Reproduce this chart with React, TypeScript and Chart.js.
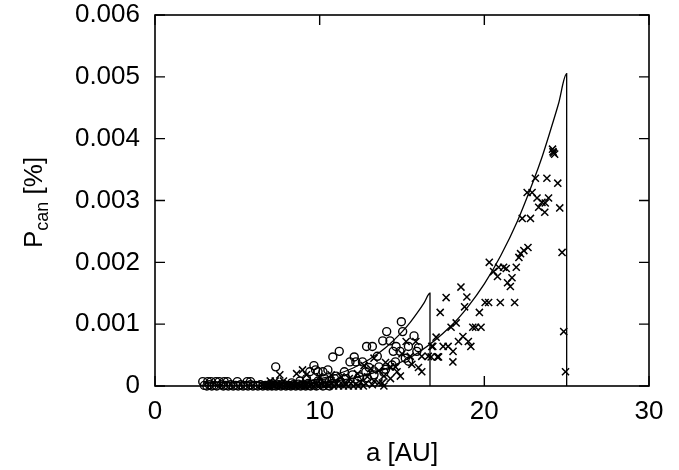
import { useEffect, useRef } from "react";
import { Chart, registerables } from "chart.js";
Chart.register(...registerables);

const xTicks = [0, 10, 20, 30];
const yTicks = [0, 0.001, 0.002, 0.003, 0.004, 0.005, 0.006];

// circles (inner region)
const circleA = [
  2.9, 3.2, 3.4, 3.7, 3.9, 4.2, 4.4, 5.0, 5.6, 5.8,
  3.0, 3.3, 3.6, 4.0, 4.3, 4.6, 4.9, 5.2, 5.5, 5.8, 6.1, 6.4, 6.7, 7.0, 7.2, 7.5, 7.8, 8.1, 8.4, 8.7, 9.0, 9.3, 9.6, 10.0, 10.4, 10.8, 11.2,
  3.15, 3.45, 3.75, 4.15, 4.45, 4.75, 5.05, 5.35, 5.65, 5.95, 6.25, 6.55, 6.85, 7.1, 7.35, 7.65, 7.95, 8.25, 8.55, 8.85, 9.15, 9.45, 9.8, 10.2, 10.6,
  7.33, 9.65, 9.75, 9.4, 9.9, 10.2, 10.5, 10.8, 11.19, 11.84, 12.1, 12.2, 12.6, 12.85, 13.2, 13.83, 14.27, 14.07, 14.96, 15.04, 15.73,
  14.64, 15.39, 14.47, 14.88, 13.5, 14.6, 15.4, 15.9, 13.0, 11.5, 11.0, 12.0, 12.8, 13.6, 10.9, 11.6, 12.4, 13.3, 14.0, 10.3, 9.2, 8.8,
  8.3, 9.9, 10.6, 11.3, 12.3, 12.9, 13.9, 14.4, 15.2, 16.0,
];
const circleP = [
  0.00007, 0.00007, 0.00007, 0.00007, 0.00007, 0.00007, 0.00007, 0.00007, 0.00007, 0.00007,
  0.00001, 0.00002, 0.00001, 0.00002, 0.00001, 0.00002, 0.00001, 0.00002, 0.00001, 0.00002, 0.00001, 0.00002, 0.00001, 0.00003, 0.00001, 0.00002, 0.00003, 0.00001, 0.00002, 0.00003, 0.00002, 0.00004, 0.00003, 0.00004, 0.00005, 0.00004, 0.00006,
  0.0, 0.0, 0.0, 0.0, 0.0, 0.0, 0.0, 0.0, 0.0, 0.0, 0.0, 0.0, 0.0, 0.0, 0.0, 0.0, 0.0, 0.0, 0.0, 0.0, 0.0, 0.0, 0.0, 0.0, 0.0,
  0.00031, 0.00033, 0.00026, 0.00023, 0.00023, 0.00023, 0.00026, 0.00047, 0.00056, 0.00039, 0.00047, 0.00039, 0.00039, 0.00064, 0.00064, 0.00073, 0.00073, 0.00088, 0.00104, 0.00088, 0.00081,
  0.00064, 0.00064, 0.00056, 0.00056, 0.00048, 0.00039, 0.0004, 0.00056, 0.0003, 0.00023, 0.00016, 0.00018, 0.00023, 0.00031, 0.00012, 0.00012, 0.00015, 0.00018, 0.00027, 0.00012, 0.00012, 0.00008,
  0.00005, 0.00008, 0.00008, 0.00006, 0.00008, 0.00013, 0.00022, 0.00034, 0.00045, 0.00062,
];

// crosses (outer region)
const crossA = [
  6.5, 6.8, 7.1, 7.4, 7.7, 8.0, 8.3, 8.6, 8.9, 9.2, 9.5, 9.8, 10.1, 10.4, 10.7, 11.0, 11.3, 11.6, 11.9, 12.2, 12.5, 12.8, 13.2, 13.6, 13.9,
  6.65, 6.95, 7.25, 7.55, 7.85, 8.15, 8.45, 8.75, 9.05, 9.35, 9.65, 9.95, 10.25, 10.55, 10.85, 11.15, 11.45, 11.75, 12.05, 12.35, 12.65,
  7.58, 7.0, 7.3, 7.8, 8.6, 8.96, 9.2, 10.0, 10.7, 11.3, 11.8, 12.3, 12.9, 13.3, 13.8, 14.3, 14.7, 14.3, 14.6, 13.1, 13.6,
  15.25, 15.84, 15.5, 16.2, 16.6, 16.2, 14.0, 13.3, 15.0, 12.7, 13.9, 14.9, 15.6, 16.0,
  17.68, 17.32, 17.07, 16.81, 17.5, 17.8, 17.22, 16.77, 18.1, 18.09, 16.87, 17.15,
  18.58, 18.94, 18.8, 18.29, 17.98, 19.3, 19.47, 19.8, 18.7, 18.43, 19.03, 19.18, 19.7,
  20.05, 20.26, 20.97, 21.84, 20.8, 21.68, 21.41, 21.58, 20.3, 20.87, 21.33, 21.17, 20.56, 21.94,
  22.65, 22.4, 22.2, 22.1, 22.3, 22.8, 22.6, 22.9, 23.1, 23.8, 24.46, 23.2, 23.5, 23.9, 23.7, 23.3, 23.67,
  24.14, 24.27, 24.17, 24.2, 24.58, 24.72, 24.82, 24.93,
];
const crossP = [
  0.00002, 0.00001, 0.00002, 0.00003, 0.00002, 0.00001, 0.00003, 0.00002, 0.00001, 0.00003, 0.00002, 0.00004, 0.00003, 0.00002, 0.00004, 0.00003, 0.00005, 0.00002, 0.00004, 0.00003, 0.00006, 0.00004, 0.00002, 0.00005, 0.0,
  0.0, 0.0, 0.0, 0.0, 0.0, 0.0, 0.0, 0.0, 0.0, 0.0, 0.0, 0.0, 0.0, 0.0, 0.0, 0.0, 0.0, 0.0, 0.0, 0.0, 0.0,
  0.00018, 0.00008, 0.00008, 0.00008, 0.0002, 0.00026, 0.00018, 0.00015, 0.00018, 0.00015, 0.00012, 0.0002, 0.00015, 0.00008, 0.00005, 0.00012, 0.00023, 0.00031, 0.00031, 0.00028, 0.00025,
  0.00072, 0.00072, 0.00048, 0.00048, 0.00048, 0.00023, 0.00038, 0.00045, 0.00052, 0.00033, 0.00016, 0.00016, 0.00035, 0.0003,
  0.00143, 0.00119, 0.00079, 0.00064, 0.00064, 0.00064, 0.00047, 0.00047, 0.00056, 0.00039, 0.00064, 0.00047,
  0.0016, 0.00144, 0.00128, 0.00102, 0.00095, 0.00095, 0.00095, 0.00095, 0.0008, 0.00072, 0.00072, 0.00064, 0.00119,
  0.00135, 0.00135, 0.00135, 0.00135, 0.00177, 0.00175, 0.00167, 0.00161, 0.002, 0.00192, 0.0019, 0.00192, 0.00185, 0.00192,
  0.00224, 0.00219, 0.00214, 0.00208, 0.00271, 0.00271, 0.00313, 0.00313, 0.00336, 0.00336, 0.00328, 0.00304, 0.00297, 0.00304, 0.00296, 0.00289, 0.00281,
  0.00383, 0.00375, 0.00379, 0.00377, 0.00288, 0.00216, 0.00088, 0.00023,
];

// model curves
const curve1A = [3, 6, 8, 10, 11, 12, 13, 14, 15, 15.5, 16, 16.35, 16.7, 16.7];
const curve1P = [0.0, 0.000009, 0.000038, 0.000115, 0.000186, 0.000287, 0.000428, 0.00062, 0.000876, 0.00103, 0.00121, 0.00135, 0.0015, 0.0];
const curve2A = [8, 10, 12, 14, 16, 18, 19, 20, 21, 22, 23, 23.5, 24, 24.5, 25, 25];
const curve2P = [0.000017, 0.000052, 0.000129, 0.000278, 0.000542, 0.000977, 0.00128, 0.00165, 0.00211, 0.00266, 0.00333, 0.0037, 0.00412, 0.00456, 0.00505, 0.0];

const FONT = "'Liberation Sans', Arial, Helvetica, sans-serif";

const framePlugin = {
  id: "frame",
  afterDraw(chart: any) {
    const { ctx, chartArea: a, scales } = chart;
    const x = scales.x;
    const y = scales.y;
    const tl = 10;
    ctx.save();
    ctx.strokeStyle = "#000";
    ctx.lineWidth = 1.4;
    ctx.beginPath();
    for (const v of xTicks) {
      const px = x.getPixelForValue(v);
      ctx.moveTo(px, a.bottom);
      ctx.lineTo(px, a.bottom - tl);
      ctx.moveTo(px, a.top);
      ctx.lineTo(px, a.top + tl);
    }
    for (const v of yTicks) {
      const py = y.getPixelForValue(v);
      ctx.moveTo(a.left, py);
      ctx.lineTo(a.left + tl, py);
      ctx.moveTo(a.right, py);
      ctx.lineTo(a.right - tl, py);
    }
    ctx.stroke();
    ctx.lineWidth = 1.6;
    ctx.strokeRect(a.left, a.top, a.right - a.left, a.bottom - a.top);
    // y title with subscript
    ctx.translate(42, 248);
    ctx.rotate(-Math.PI / 2);
    ctx.fillStyle = "#000";
    ctx.textBaseline = "alphabetic";
    ctx.textAlign = "left";
    ctx.font = `26px ${FONT}`;
    ctx.fillText("P", 0, 0);
    let w = ctx.measureText("P").width;
    ctx.font = `18px ${FONT}`;
    ctx.fillText("can", w, 6);
    w += ctx.measureText("can").width;
    ctx.font = `26px ${FONT}`;
    ctx.fillText(" [%]", w, 0);
    ctx.restore();
  },
};

function toPts(xs: number[], ys: number[]) {
  return xs.map((v, i) => ({ x: v, y: ys[i] }));
}

export default function App() {
  const ref = useRef<HTMLCanvasElement | null>(null);
  useEffect(() => {
    if (!ref.current) return;
    const chart = new Chart(ref.current, {
      type: "scatter",
      data: {
        datasets: [
          {
            label: "curve1",
            type: "line",
            data: toPts(curve1A, curve1P),
            borderColor: "#000",
            borderWidth: 1.3,
            pointRadius: 0,
            fill: false,
            cubicInterpolationMode: "monotone",
          } as any,
          {
            label: "curve2",
            type: "line",
            data: toPts(curve2A, curve2P),
            borderColor: "#000",
            borderWidth: 1.3,
            pointRadius: 0,
            fill: false,
            cubicInterpolationMode: "monotone",
          } as any,
          {
            label: "circles",
            data: toPts(circleA, circleP),
            pointStyle: "circle",
            pointRadius: 4,
            borderColor: "#000",
            backgroundColor: "rgba(0,0,0,0)",
            borderWidth: 1.4,
            clip: false,
          } as any,
          {
            label: "crosses",
            data: toPts(crossA, crossP),
            pointStyle: "crossRot",
            pointRadius: 5,
            borderColor: "#000",
            backgroundColor: "#000",
            borderWidth: 1.5,
            clip: false,
          } as any,
        ],
      },
      options: {
        responsive: false,
        animation: false,
        devicePixelRatio: 1,
        layout: { padding: { left: 0, right: 30, top: 15, bottom: 0 } },
        plugins: { legend: { display: false }, tooltip: { enabled: false } },
        scales: {
          x: {
            type: "linear",
            min: 0,
            max: 30,
            afterBuildTicks: (s: any) => {
              s.ticks = xTicks.map((v) => ({ value: v }));
            },
            afterFit: (s: any) => {
              s.height = 84;
              s.paddingLeft = 0;
              s.paddingRight = 0;
            },
            ticks: {
              color: "#000",
              font: { family: FONT, size: 26 },
              padding: 10,
              maxRotation: 0,
              callback: (v: any) => String(v),
            },
            grid: { display: false, drawTicks: false },
            border: { display: false },
            title: {
              display: true,
              text: "a [AU]",
              color: "#000",
              font: { family: FONT, size: 26 },
              padding: { top: 0, bottom: 1 },
            },
          },
          y: {
            type: "linear",
            min: 0,
            max: 0.006,
            afterBuildTicks: (s: any) => {
              s.ticks = yTicks.map((v) => ({ value: v }));
            },
            afterFit: (s: any) => {
              s.width = 155;
              s.paddingTop = 0;
              s.paddingBottom = 0;
            },
            ticks: {
              color: "#000",
              font: { family: FONT, size: 26 },
              padding: 15,
              callback: (v: any) => (v === 0 ? "0" : Number(v).toFixed(3)),
            },
            grid: { display: false, drawTicks: false },
            border: { display: false },
          },
        },
      },
      plugins: [framePlugin],
    });
    return () => chart.destroy();
  }, []);
  return (
    <div style={{ position: "absolute", left: 0, top: 0, width: 679, height: 470, background: "#fff" }}>
      <canvas ref={ref} width={679} height={470} style={{ display: "block" }} />
    </div>
  );
}
